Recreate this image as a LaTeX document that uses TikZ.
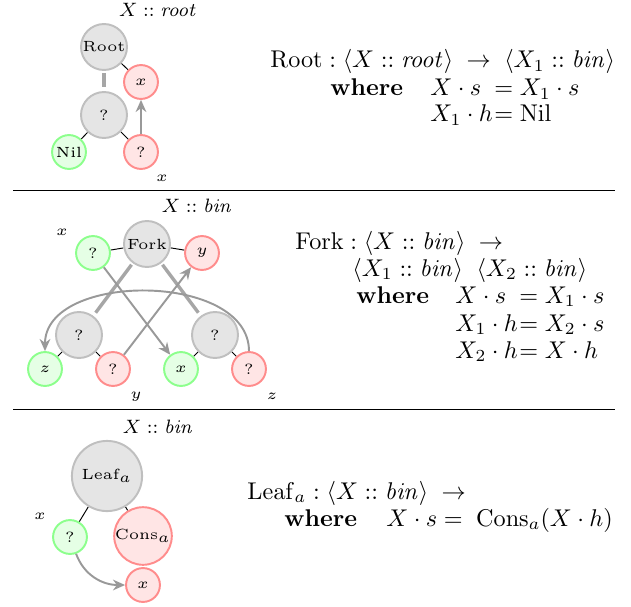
\documentclass[tikz,border=0pt]{standalone}
\usetikzlibrary{arrows.meta,backgrounds}
\newlength\eqw
\newcommand\nl[1]{\scalebox{1.22}{\tiny #1}}
\newcommand\typfont{\fontsize{7.6}{9}\selectfont}
\begin{document}
\settowidth\eqw{$X_1\cdot h$}
\begin{tikzpicture}[x=0.4132pt,y=-0.4132pt,
  base/.style={circle,line width=0.8pt,inner sep=0pt},
  gnode/.style={base,draw=gray!50,fill=gray!20,minimum size=19pt},
  rnode/.style={base,draw=red!45,fill=red!10,minimum size=14pt},
  grnode/.style={base,draw=green!45,fill=green!10,minimum size=14pt},
  tick/.style={black,line width=0.4pt},
  bar/.style={gray!70,line width=1.4pt,shorten <=0.8pt,shorten >=1.6pt},
  flow/.style={gray!80,line width=0.8pt,-{Stealth[length=5pt,width=4.4pt]}},
  lbl/.style={inner sep=0pt},
  typ/.style={font=\typfont,inner sep=0pt},
  txt/.style={anchor=base west,inner sep=0pt},
  rule/.style={black,line width=0.4pt}]
\useasboundingbox (0,0) rectangle (631,607);

% ---------- Root ----------
\node[typ] (t1) at (158,10) {$X :: \mathit{root}$};
\node[gnode] (root) at (104,47) {\nl{Root}};
\node[rnode] (x1) at (141,82) {\nl{$x$}};
\node[gnode] (q1) at (104,115) {\nl{?}};
\node[grnode] (nil) at (69,152) {\nl{Nil}};
\node[rnode] (rq1) at (141,152) {\nl{?}};
\node[lbl] (lx1) at (162,178) {\nl{$x$}};
\begin{scope}[on background layer]
  \draw[tick] (root) -- (x1);
  \draw[tick] (q1) -- (nil);
  \draw[tick] (q1) -- (rq1);
\end{scope}
\draw[bar] (root) -- (q1);
\draw[flow] (rq1) -- (x1);

\node[txt] (r1) at (270,68) {$\mathrm{Root} : \langle X :: \mathit{root}\rangle \;\rightarrow\; \langle X_1 :: \mathit{bin}\rangle$};
\node[txt] (r2) at (330,96) {\textbf{where}};
\node[txt] (r3) at (430,96) {\makebox[\eqw][l]{$X\cdot s$}\hspace{0.6pt}$= X_1\cdot s$};
\node[txt] (r4) at (430,122) {$X_1\cdot h$\hspace{0.6pt}$= \mathrm{Nil}$};

\draw[rule] (13,190) -- (615,190);

% ---------- Fork ----------
\node[typ] (t2) at (197,206) {$X :: \mathit{bin}$};
\node[gnode] (fork) at (147,244) {\nl{Fork}};
\node[grnode] (gq) at (93,253) {\nl{?}};
\node[rnode] (fy) at (202,253) {\nl{$y$}};
\node[gnode] (lq) at (79,335) {\nl{?}};
\node[gnode] (rq) at (215,335) {\nl{?}};
\node[grnode] (fz) at (45,369) {\nl{$z$}};
\node[rnode] (lr) at (113,369) {\nl{?}};
\node[grnode] (fx) at (181,369) {\nl{$x$}};
\node[rnode] (rr) at (249,369) {\nl{?}};
\node[lbl] (lx2) at (62,232) {\nl{$x$}};
\node[lbl] (ly2) at (136,397) {\nl{$y$}};
\node[lbl] (lz2) at (272,396) {\nl{$z$}};
\begin{scope}[on background layer]
  \draw[tick] (fork) -- (gq);
  \draw[tick] (fork) -- (fy);
  \draw[tick] (lq) -- (fz);
  \draw[tick] (lq) -- (lr);
  \draw[tick] (rq) -- (fx);
  \draw[tick] (rq) -- (rr);
\end{scope}
\draw[bar] (fork) -- (lq);
\draw[bar] (fork) -- (rq);
\draw[flow] (gq) -- (fx);
\draw[flow] (lr) -- (fy);
\draw[flow] (rr.north) to[out=90,in=90,looseness=1] (fz.north);

\node[txt] (f1) at (295,249) {$\mathrm{Fork} : \langle X :: \mathit{bin}\rangle \;\rightarrow$};
\node[txt] (f2) at (352,276) {$\langle X_1 :: \mathit{bin}\rangle \;\; \langle X_2 :: \mathit{bin}\rangle$};
\node[txt] (f3) at (356,303) {\textbf{where}};
\node[txt] (f4) at (455,303) {\makebox[\eqw][l]{$X\cdot s$}\hspace{0.6pt}$= X_1\cdot s$};
\node[txt] (f5) at (455,331) {$X_1\cdot h$\hspace{0.6pt}$= X_2\cdot s$};
\node[txt] (f6) at (455,358) {$X_2\cdot h$\hspace{0.6pt}$= X\cdot h$};

\draw[rule] (13,409) -- (615,409);

% ---------- Leaf ----------
\node[typ] (t3) at (158,427) {$X :: \mathit{bin}$};
\node[gnode,minimum size=29pt] (leaf) at (107,476) {\nl{Leaf$_a$}};
\node[grnode] (lg) at (70,537) {\nl{?}};
\node[rnode,minimum size=22.4pt] (cons) at (143,536) {\nl{Cons$_a$}};
\node[rnode] (lx) at (143,585) {\nl{$x$}};
\node[lbl] (lx3) at (40,516) {\nl{$x$}};
\begin{scope}[on background layer]
  \draw[tick] (leaf) -- (lg);
  \draw[tick] (leaf) -- (cons);
\end{scope}
\draw[flow] (lg) to[out=-70,in=180] (lx);

\node[txt] (l1) at (247,499) {$\mathrm{Leaf}_a : \langle X :: \mathit{bin}\rangle \;\rightarrow$};
\node[txt] (l2) at (284,526) {\textbf{where}};
\node[txt] (l3) at (386,526) {$X\cdot s = \; \mathrm{Cons}_a(X\cdot h)$};
\end{tikzpicture}
\end{document}
